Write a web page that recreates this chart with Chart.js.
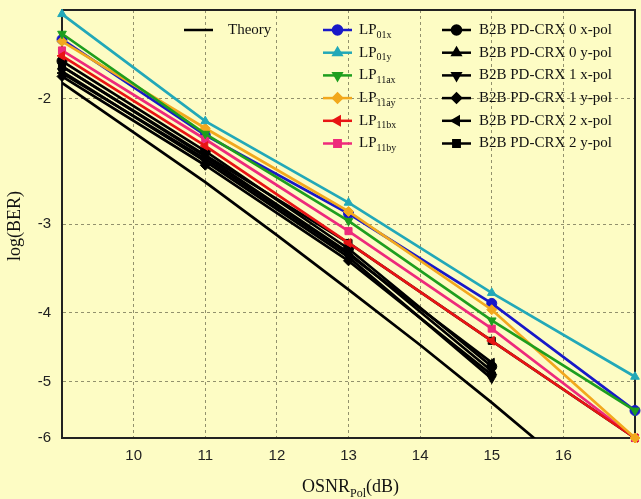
<!DOCTYPE html>
<html>
<head>
<meta charset="utf-8">
<script src="https://cdn.jsdelivr.net/npm/chart.js@4.4.1/dist/chart.umd.min.js"></script>
<style>
  body { margin: 0; background: #fdfcc4; }
  canvas { display: block; }
</style>
</head>
<body>
<canvas id="ber" width="641" height="499"></canvas>
<script>
// OSNR points (dB)
const osnr = [9, 11, 13, 15, 17];
const osnrB2B = [9, 11, 13, 15];
const osnrTheory = [9, 10, 11, 12, 13, 14, 15, 16];

// log(BER) values
const theory = [-1.90, -2.23, -2.62, -3.11, -3.71, -4.44, -5.35, -6.50];
const lp01x = [-1.65, -2.25, -2.90, -3.88, -5.49];
const lp01y = [-1.52, -2.15, -2.80, -3.75, -4.92];
const lp11ax = [-1.62, -2.24, -2.97, -4.10, -5.49];
const lp11ay = [-1.66, -2.20, -2.88, -3.96, -6.00];
const lp11bx = [-1.74, -2.33, -3.19, -4.38, -6.00];
const lp11by = [-1.71, -2.28, -3.07, -4.21, -6.00];
const b2b0x = [-1.77, -2.37, -3.25, -4.76];
const b2b0y = [-1.80, -2.41, -3.29, -4.83];
const b2b1x = [-1.83, -2.45, -3.34, -4.95];
const b2b1y = [-1.86, -2.48, -3.38, -4.89];
const b2b2x = [-1.84, -2.43, -3.31, -4.70];
const b2b2y = [-1.80, -2.40, -3.19, -4.38, -6.00];

const yTicks = [-2, -3, -4, -5, -6];
const xTicks = [9, 10, 11, 12, 13, 14, 15, 16, 17];

const series = [
  { label: 'Theory', x: osnrTheory, y: theory, color: '#000', style: false, rot: 0, col: 0, row: 0 },
  { label: 'LP_01x', x: osnr, y: lp01x, color: '#1818c8', style: 'circle', rot: 0, col: 1, row: 0, under: true },
  { label: 'LP_01y', x: osnr, y: lp01y, color: '#22a8b8', style: 'triangle', rot: 0, col: 1, row: 1 },
  { label: 'LP_11ax', x: osnr, y: lp11ax, color: '#1e9e1e', style: 'triangle', rot: 180, col: 1, row: 2 },
  { label: 'LP_11ay', x: osnr, y: lp11ay, color: '#f2a81d', style: 'rectRot', rot: 0, col: 1, row: 3 },
  { label: 'LP_11bx', x: osnr, y: lp11bx, color: '#e81414', style: 'triangle', rot: -90, col: 1, row: 4 },
  { label: 'LP_11by', x: osnr, y: lp11by, color: '#ee2a7b', style: 'rect', rot: 0, col: 1, row: 5 },
  { label: 'B2B PD-CRX 0 x-pol', x: osnrB2B, y: b2b0x, color: '#000', style: 'circle', rot: 0, col: 2, row: 0 },
  { label: 'B2B PD-CRX 0 y-pol', x: osnrB2B, y: b2b0y, color: '#000', style: 'triangle', rot: 0, col: 2, row: 1 },
  { label: 'B2B PD-CRX 1 x-pol', x: osnrB2B, y: b2b1x, color: '#000', style: 'triangle', rot: 180, col: 2, row: 2 },
  { label: 'B2B PD-CRX 1 y-pol', x: osnrB2B, y: b2b1y, color: '#000', style: 'rectRot', rot: 0, col: 2, row: 3 },
  { label: 'B2B PD-CRX 2 x-pol', x: osnrB2B, y: b2b2x, color: '#000', style: 'triangle', rot: -90, col: 2, row: 4 },
  { label: 'B2B PD-CRX 2 y-pol', x: osnr, y: b2b2y, color: '#000', style: 'rect', rot: 0, col: 2, row: 5 }
];

// axis is log(-log BER), so plot the magnitude on a reversed log scale
const datasets = series.map(s => ({
  label: s.label,
  data: s.x.map((x, i) => ({ x: x, y: -s.y[i] })),
  borderColor: s.color,
  backgroundColor: s.color,
  borderWidth: 2.7,
  pointStyle: s.style || false,
  pointRotation: s.rot,
  pointRadius: s.style ? 5 : 0,
  pointBorderWidth: 1,
  clip: s.style ? false : 0,
  order: s.under ? 1 : 0,
  tension: 0
}));

const legendCols = [
  { line: 184, text: 228 },
  { line: 323, text: 359 },
  { line: 442, text: 479 }
];

function drawLabel(ctx, text, x, y) {
  const parts = text.split('_');
  ctx.font = '15px "Liberation Serif"';
  ctx.fillText(parts[0], x, y);
  if (parts[1]) {
    const w = ctx.measureText(parts[0]).width;
    ctx.font = '10px "Liberation Serif"';
    ctx.fillText(parts[1], x + w, y + 5);
  }
}

const decorations = {
  id: 'decorations',
  beforeDatasetsDraw(chart) {
    const { ctx, chartArea: a } = chart;
    ctx.save();
    ctx.strokeStyle = '#222';
    ctx.lineWidth = 2;
    ctx.strokeRect(a.left, a.top, a.right - a.left, a.bottom - a.top);
    ctx.restore();
  },
  afterDraw(chart) {
    const ctx = chart.ctx;
    ctx.save();
    ctx.textBaseline = 'middle';
    series.forEach(s => {
      const c = legendCols[s.col];
      const y = 30 + s.row * 22.7;
      ctx.strokeStyle = s.color;
      ctx.fillStyle = s.color;
      ctx.lineWidth = 2.5;
      ctx.beginPath();
      ctx.moveTo(c.line, y);
      ctx.lineTo(c.line + 29, y);
      ctx.stroke();
      if (s.style) {
        Chart.helpers.drawPoint(ctx, { pointStyle: s.style, rotation: s.rot, radius: 4.5, borderWidth: 1 }, c.line + 14.5, y);
      }
      ctx.fillStyle = '#111';
      drawLabel(ctx, s.label, c.text, y);
    });

    // axis titles
    ctx.fillStyle = '#111';
    ctx.textBaseline = 'alphabetic';
    ctx.save();
    ctx.translate(20, 226);
    ctx.rotate(-Math.PI / 2);
    ctx.textAlign = 'center';
    ctx.font = '18px "Liberation Serif"';
    ctx.fillText('log(BER)', 0, 0);
    ctx.restore();

    let x = 302;
    const base = 492;
    ctx.font = '18px "Liberation Serif"';
    ctx.fillText('OSNR', x, base);
    x += ctx.measureText('OSNR').width;
    ctx.font = '12px "Liberation Serif"';
    ctx.fillText('Pol', x, base + 5);
    x += ctx.measureText('Pol').width;
    ctx.font = '18px "Liberation Serif"';
    ctx.fillText('(dB)', x, base);
    ctx.restore();
  }
};

new Chart(document.getElementById('ber'), {
  type: 'line',
  data: { datasets: datasets },
  options: {
    responsive: false,
    animation: false,
    devicePixelRatio: 1,
    layout: { padding: { top: 10, right: -2, left: 0, bottom: 0 } },
    plugins: { legend: { display: false }, tooltip: { enabled: false } },
    scales: {
      x: {
        type: 'linear',
        min: 9,
        max: 17,
        afterBuildTicks: axis => { axis.ticks = xTicks.map(v => ({ value: v })); },
        afterFit: axis => { axis.height = 61; axis.paddingLeft = 0; axis.paddingRight = 0; },
        ticks: {
          padding: 9,
          color: '#222',
          font: { family: 'Liberation Sans', size: 15 },
          callback: v => (v === 9 || v === 17) ? '' : String(v)
        },
        grid: { color: 'rgba(110,110,80,0.75)', lineWidth: 1, drawTicks: false },
        border: { color: '#111', width: 2, dash: [3, 3] }
      },
      y: {
        type: 'logarithmic',
        reverse: true,
        min: 1.5,
        max: 6,
        afterBuildTicks: axis => { axis.ticks = yTicks.map(v => ({ value: -v })); },
        afterFit: axis => { axis.width = 62; axis.paddingTop = 0; axis.paddingBottom = 0; },
        ticks: {
          padding: 11,
          color: '#222',
          font: { family: 'Liberation Sans', size: 15 },
          callback: v => String(-v)
        },
        grid: { color: 'rgba(110,110,80,0.75)', lineWidth: 1, drawTicks: false },
        border: { color: '#111', width: 2, dash: [3, 3] }
      }
    }
  },
  plugins: [decorations]
});
</script>
</body>
</html>
